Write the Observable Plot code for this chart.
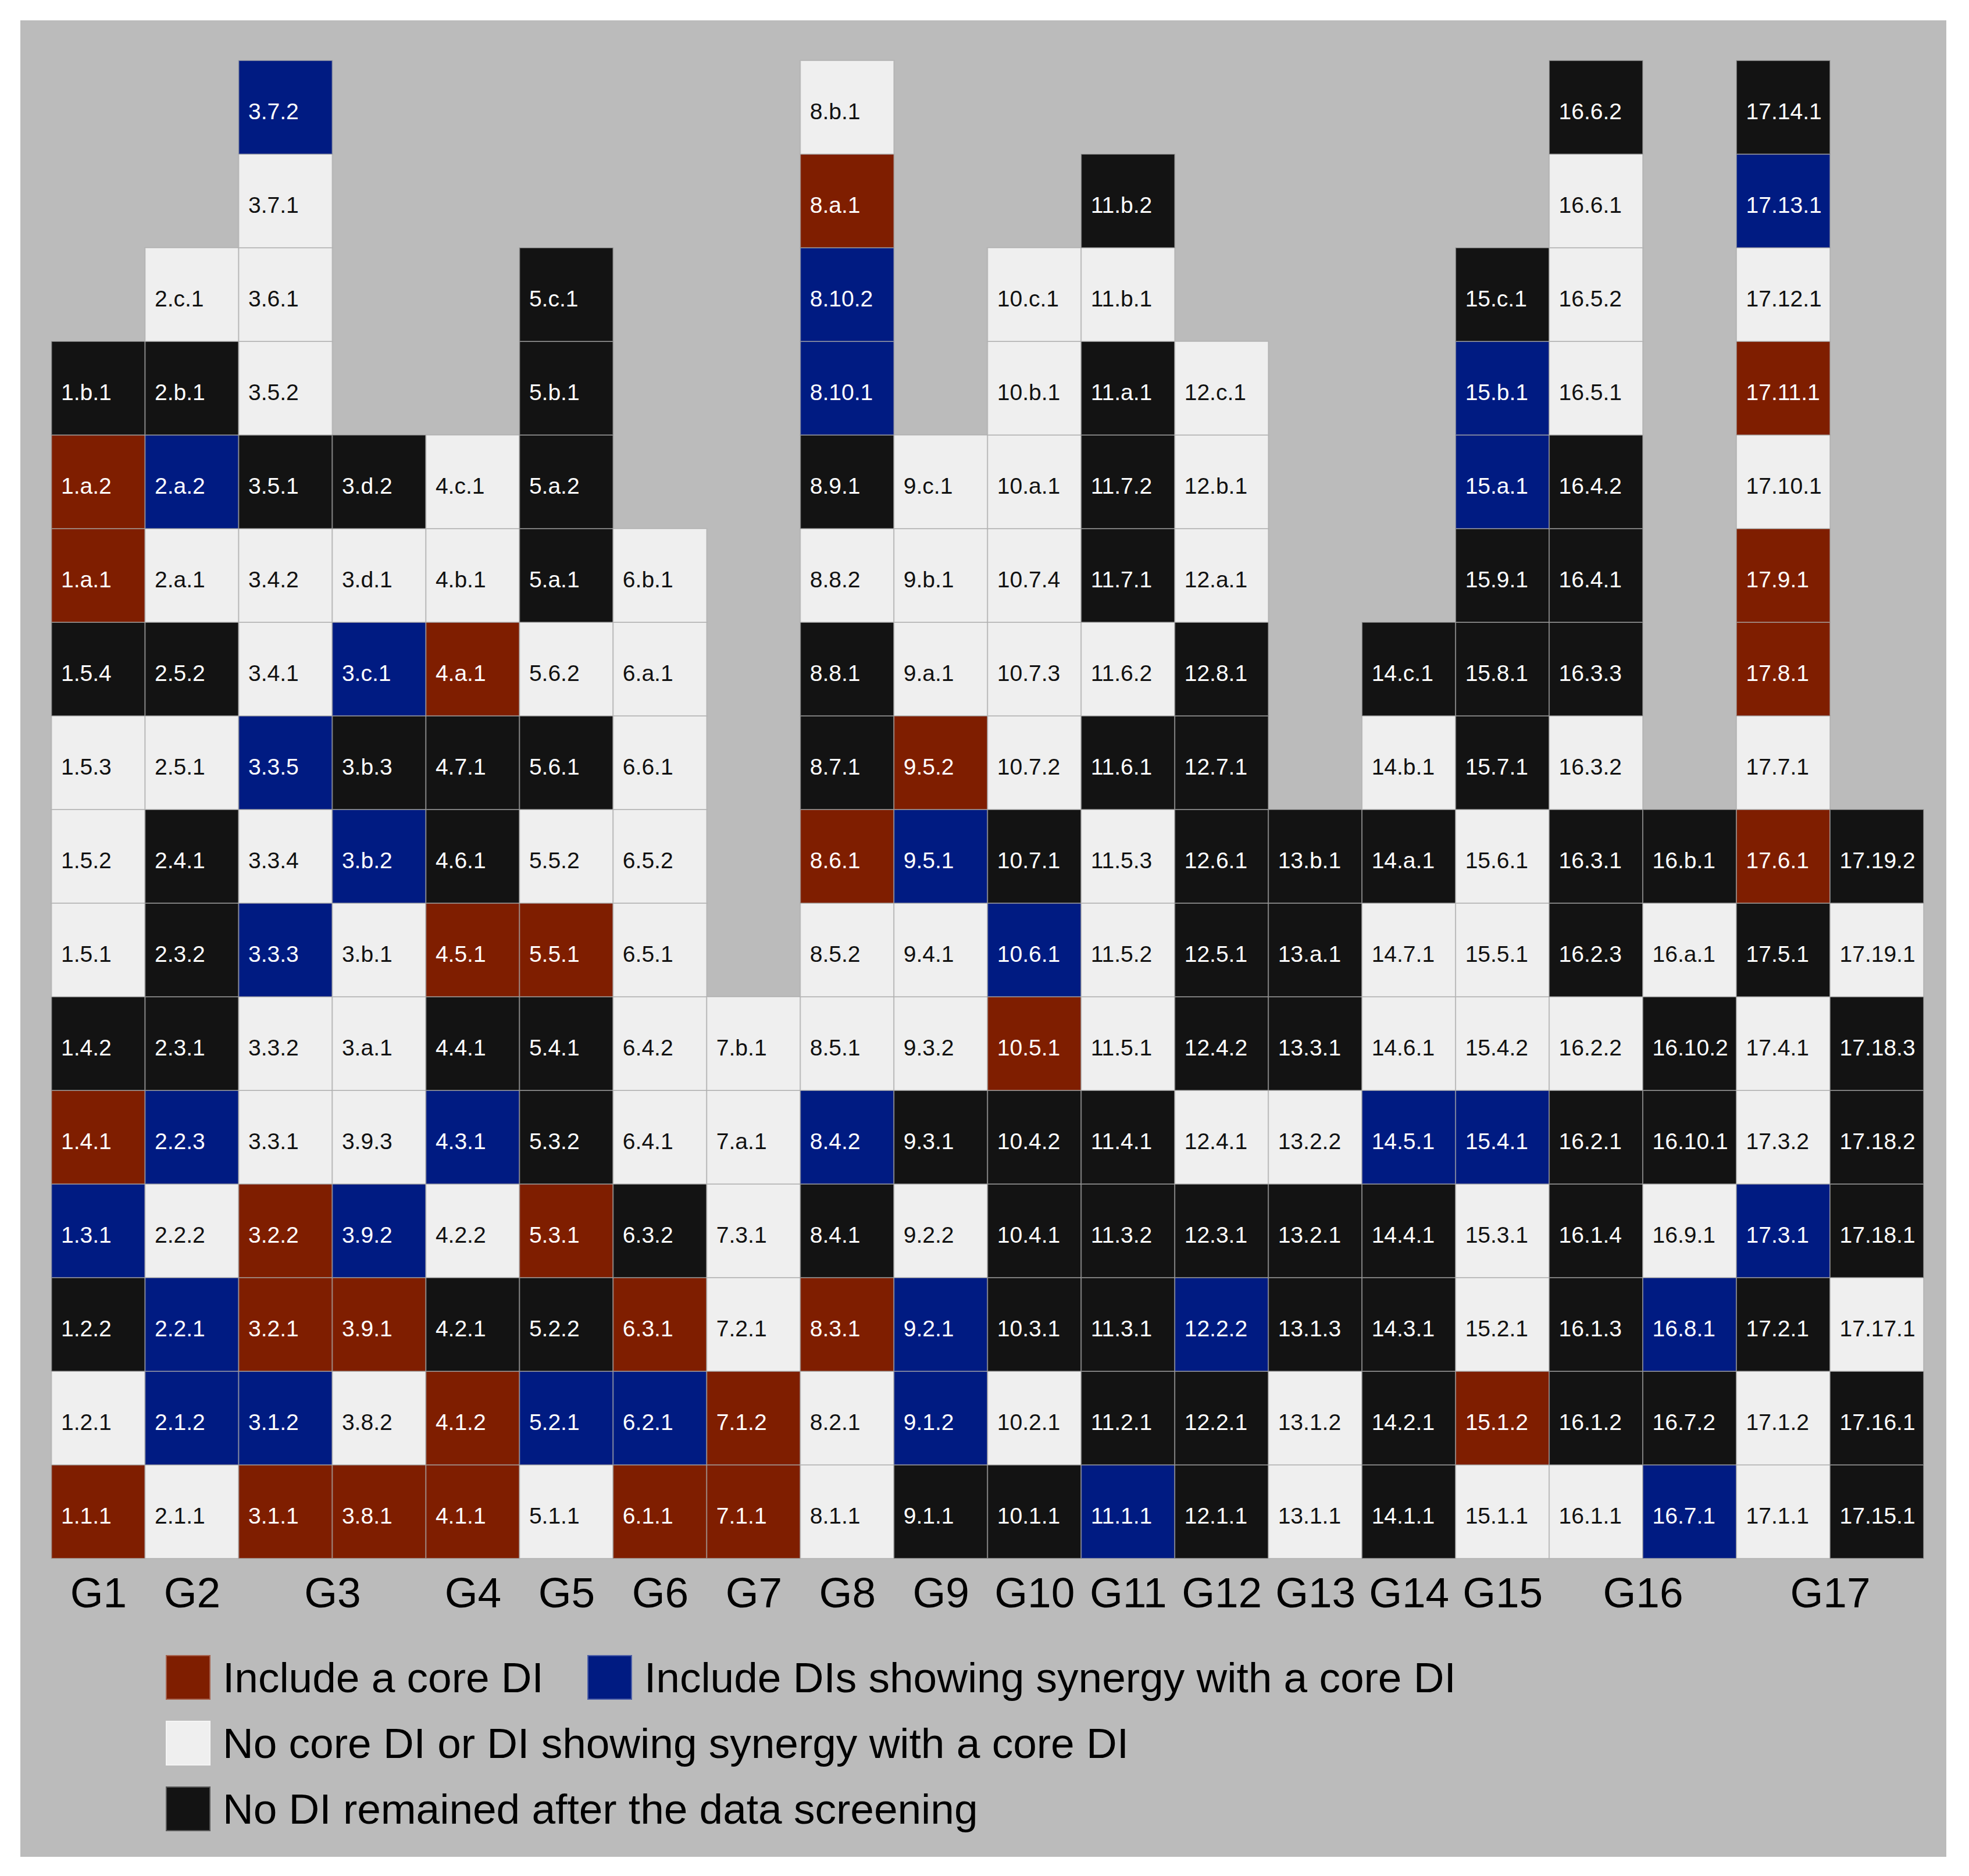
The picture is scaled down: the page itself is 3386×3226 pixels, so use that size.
<!DOCTYPE html>
<html>
<head>
<meta charset="utf-8">
<script src="https://cdn.jsdelivr.net/npm/d3@7"></script>
<script src="https://cdn.jsdelivr.net/npm/@observablehq/plot@0.6"></script>
<style>
  html, body { margin: 0; padding: 0; background: #ffffff; }
  #panel { position: absolute; left: 35px; top: 35px; width: 3312px; height: 3158px;
           background: #bbbbbb; font-family: "Liberation Sans", Arial, sans-serif; color: #000; }
  #chart svg { display: block; }
  #legend { position: absolute; left: 250px; top: 2811px; }
  .row { display: flex; align-items: center; height: 77px; margin-bottom: 36px; }
  .item { display: flex; align-items: center; }
  .row .item.wide { width: 725px; }
  .sw { width: 77px; height: 77px; box-sizing: border-box; border: 2px solid rgba(255,255,255,0.3); margin-right: 21px; flex: none; }
  .lab { font-size: 73px; line-height: 1; white-space: nowrap; }
</style>
</head>
<body>
<div id="panel">
  <div id="chart"></div>
  <div id="legend"></div>
</div>
<script>
// ---- Data: each column listed bottom to top, "label:status" (R core, B synergy, W none, K removed)
const col01 = ["1.1.1:R","1.2.1:W","1.2.2:K","1.3.1:B","1.4.1:R","1.4.2:K","1.5.1:W","1.5.2:W","1.5.3:W","1.5.4:K","1.a.1:R","1.a.2:R","1.b.1:K"];
const col02 = ["2.1.1:W","2.1.2:B","2.2.1:B","2.2.2:W","2.2.3:B","2.3.1:K","2.3.2:K","2.4.1:K","2.5.1:W","2.5.2:K","2.a.1:W","2.a.2:B","2.b.1:K","2.c.1:W"];
const col03 = ["3.1.1:R","3.1.2:B","3.2.1:R","3.2.2:R","3.3.1:W","3.3.2:W","3.3.3:B","3.3.4:W","3.3.5:B","3.4.1:W","3.4.2:W","3.5.1:K","3.5.2:W","3.6.1:W","3.7.1:W","3.7.2:B"];
const col04 = ["3.8.1:R","3.8.2:W","3.9.1:R","3.9.2:B","3.9.3:W","3.a.1:W","3.b.1:W","3.b.2:B","3.b.3:K","3.c.1:B","3.d.1:W","3.d.2:K"];
const col05 = ["4.1.1:R","4.1.2:R","4.2.1:K","4.2.2:W","4.3.1:B","4.4.1:K","4.5.1:R","4.6.1:K","4.7.1:K","4.a.1:R","4.b.1:W","4.c.1:W"];
const col06 = ["5.1.1:W","5.2.1:B","5.2.2:K","5.3.1:R","5.3.2:K","5.4.1:K","5.5.1:R","5.5.2:W","5.6.1:K","5.6.2:W","5.a.1:K","5.a.2:K","5.b.1:K","5.c.1:K"];
const col07 = ["6.1.1:R","6.2.1:B","6.3.1:R","6.3.2:K","6.4.1:W","6.4.2:W","6.5.1:W","6.5.2:W","6.6.1:W","6.a.1:W","6.b.1:W"];
const col08 = ["7.1.1:R","7.1.2:R","7.2.1:W","7.3.1:W","7.a.1:W","7.b.1:W"];
const col09 = ["8.1.1:W","8.2.1:W","8.3.1:R","8.4.1:K","8.4.2:B","8.5.1:W","8.5.2:W","8.6.1:R","8.7.1:K","8.8.1:K","8.8.2:W","8.9.1:K","8.10.1:B","8.10.2:B","8.a.1:R","8.b.1:W"];
const col10 = ["9.1.1:K","9.1.2:B","9.2.1:B","9.2.2:W","9.3.1:K","9.3.2:W","9.4.1:W","9.5.1:B","9.5.2:R","9.a.1:W","9.b.1:W","9.c.1:W"];
const col11 = ["10.1.1:K","10.2.1:W","10.3.1:K","10.4.1:K","10.4.2:K","10.5.1:R","10.6.1:B","10.7.1:K","10.7.2:W","10.7.3:W","10.7.4:W","10.a.1:W","10.b.1:W","10.c.1:W"];
const col12 = ["11.1.1:B","11.2.1:K","11.3.1:K","11.3.2:K","11.4.1:K","11.5.1:W","11.5.2:W","11.5.3:W","11.6.1:K","11.6.2:W","11.7.1:K","11.7.2:K","11.a.1:K","11.b.1:W","11.b.2:K"];
const col13 = ["12.1.1:K","12.2.1:K","12.2.2:B","12.3.1:K","12.4.1:W","12.4.2:K","12.5.1:K","12.6.1:K","12.7.1:K","12.8.1:K","12.a.1:W","12.b.1:W","12.c.1:W"];
const col14 = ["13.1.1:W","13.1.2:W","13.1.3:K","13.2.1:K","13.2.2:W","13.3.1:K","13.a.1:K","13.b.1:K"];
const col15 = ["14.1.1:K","14.2.1:K","14.3.1:K","14.4.1:K","14.5.1:B","14.6.1:W","14.7.1:W","14.a.1:K","14.b.1:W","14.c.1:K"];
const col16 = ["15.1.1:W","15.1.2:R","15.2.1:W","15.3.1:W","15.4.1:B","15.4.2:W","15.5.1:W","15.6.1:W","15.7.1:K","15.8.1:K","15.9.1:K","15.a.1:B","15.b.1:B","15.c.1:K"];
const col17 = ["16.1.1:W","16.1.2:K","16.1.3:K","16.1.4:K","16.2.1:K","16.2.2:W","16.2.3:K","16.3.1:K","16.3.2:W","16.3.3:K","16.4.1:K","16.4.2:K","16.5.1:W","16.5.2:W","16.6.1:W","16.6.2:K"];
const col18 = ["16.7.1:B","16.7.2:K","16.8.1:B","16.9.1:W","16.10.1:K","16.10.2:K","16.a.1:W","16.b.1:K"];
const col19 = ["17.1.1:W","17.1.2:W","17.2.1:K","17.3.1:B","17.3.2:W","17.4.1:W","17.5.1:K","17.6.1:R","17.7.1:W","17.8.1:R","17.9.1:R","17.10.1:W","17.11.1:R","17.12.1:W","17.13.1:B","17.14.1:K"];
const col20 = ["17.15.1:K","17.16.1:K","17.17.1:W","17.18.1:K","17.18.2:K","17.18.3:K","17.19.1:W","17.19.2:K"];

const columns = [col01,col02,col03,col04,col05,col06,col07,col08,col09,col10,col11,col12,col13,col14,col15,col16,col17,col18,col19,col20];

const groups = ["G1","G2","G3","G4","G5","G6","G7","G8","G9","G10","G11","G12","G13","G14","G15","G16","G17"];
const groupSpans = [1,1,2,1,1,1,1,1,1,1,1,1,1,1,1,2,2];

const statusCodes  = ["R","B","W","K"];
const statusNames  = ["Include a core DI","Include DIs showing synergy with a core DI","No core DI or DI showing synergy with a core DI","No DI remained after the data screening"];
const statusColors = ["#7f1e00","#001b82","#efefef","#131313"];

// ---- Build table
const cells = [];
columns.forEach((col, ci) => col.forEach((s, ri) => {
  const [label, code] = s.split(":");
  cells.push({col: ci, row: ri, label, code, status: statusNames[statusCodes.indexOf(code)]});
}));
const maxRows = d3.max(columns, c => c.length);

let start = 0;
const centers = [];
groupSpans.forEach(n => { centers.push(start + n / 2); start += n; });
const nameAt = new Map(centers.map((c, i) => [c, groups[i]]));

const textOpts = {x: "col", y: d => d.row + 0.5, text: "label", textAnchor: "start", dx: 16, dy: 8, fontSize: 39};

const chart = Plot.plot({
  width: 3312,
  height: 2760,
  marginLeft: 53.5,
  marginRight: 39,
  marginTop: 69,
  marginBottom: 115,
  style: {background: "transparent", fontFamily: "Liberation Sans, Arial, sans-serif", color: "#000"},
  x: {type: "linear", domain: [0, columns.length]},
  y: {type: "linear", domain: [0, maxRows], axis: null},
  color: {domain: statusNames, range: statusColors},
  marks: [
    Plot.rect(cells, {x1: "col", x2: d => d.col + 1, y1: "row", y2: d => d.row + 1, fill: "status",
                      stroke: "#a8a8a8", strokeOpacity: 0.6, strokeWidth: 2}),
    Plot.text(cells.filter(d => d.code === "W"), {...textOpts, fill: "#111"}),
    Plot.text(cells.filter(d => d.code !== "W"), {...textOpts, fill: "#ffffff"}),
    Plot.axisX({ticks: centers, tickFormat: d => nameAt.get(d), tickSize: 0, tickPadding: 32, fontSize: 73, label: null})
  ]
});
document.getElementById("chart").appendChild(chart);

// ---- Legend (HTML), rows as in the reference
const legendRows = [[0, 1], [2], [3]];
const legend = document.getElementById("legend");
legendRows.forEach(r => {
  const row = document.createElement("div");
  row.className = "row";
  r.forEach((k, j) => {
    const item = document.createElement("div");
    item.className = "item" + (r.length > 1 && j === 0 ? " wide" : "");
    const sw = document.createElement("div");
    sw.className = "sw";
    sw.style.background = statusColors[k];
    const lab = document.createElement("div");
    lab.className = "lab";
    lab.textContent = statusNames[k];
    item.appendChild(sw);
    item.appendChild(lab);
    row.appendChild(item);
  });
  legend.appendChild(row);
});
</script>
</body>
</html>
